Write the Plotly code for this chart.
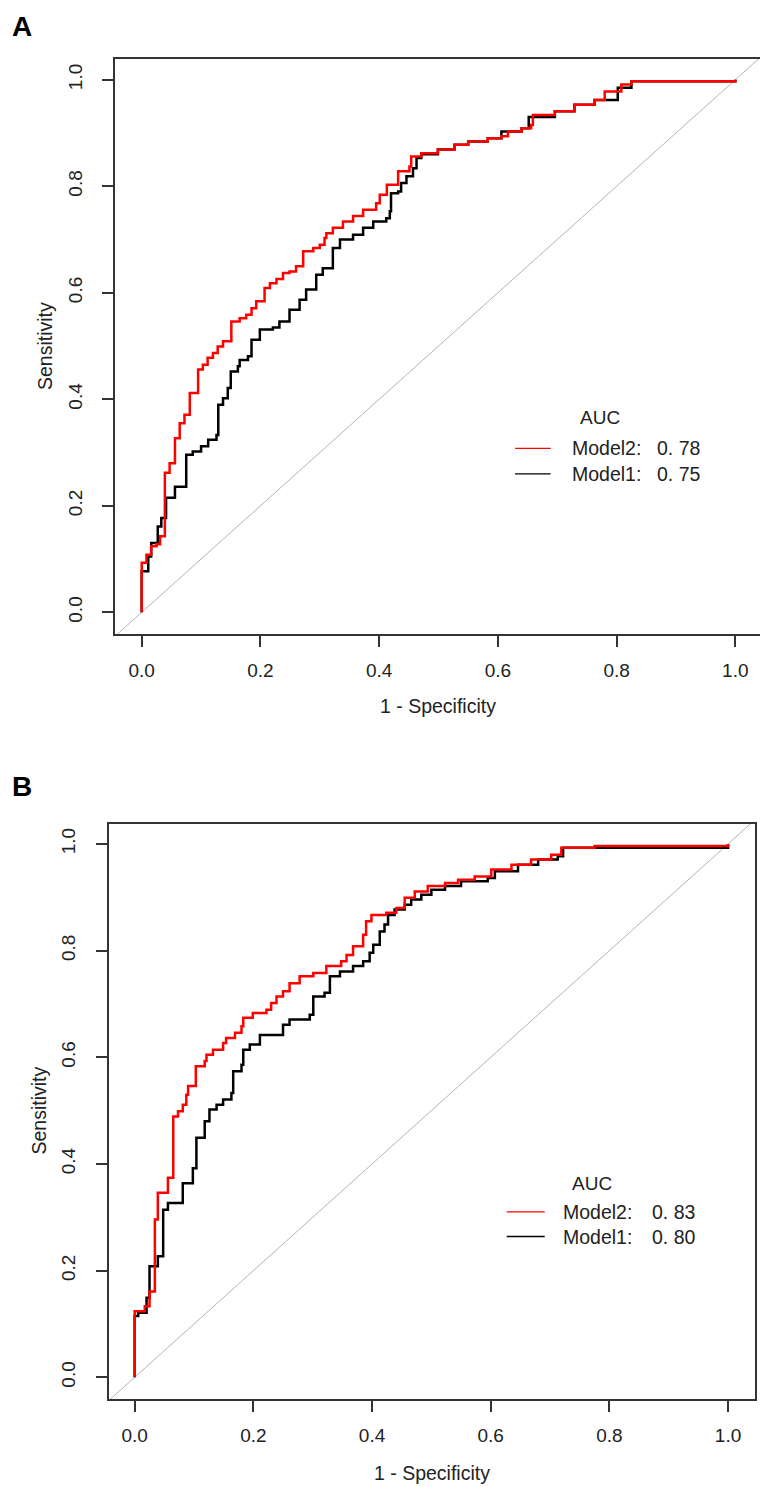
import plotly.graph_objects as go

# ---------------- Data ----------------
# Panel A
a_m2_fpr = [0, 0, 0.008, 0.016, 0.025, 0.031, 0.039, 0.047, 0.056, 0.064, 0.072, 0.081, 0.095, 0.103,
            0.111, 0.120, 0.128, 0.137, 0.151, 0.165, 0.176, 0.185, 0.193, 0.207, 0.216, 0.227, 0.238,
            0.249, 0.260, 0.272, 0.289, 0.300, 0.308, 0.311, 0.322, 0.339, 0.356, 0.373, 0.395, 0.401,
            0.413, 0.432, 0.451, 0.454, 0.471, 0.499, 0.527, 0.550, 0.583, 0.606, 0.617, 0.640, 0.656,
            0.659, 0.696, 0.729, 0.763, 0.780, 0.808, 0.825, 1.0]
a_m2_tpr = [0, 0.093, 0.108, 0.124, 0.128, 0.143, 0.262, 0.280, 0.327, 0.355, 0.371, 0.412, 0.456, 0.465,
            0.478, 0.487, 0.499, 0.509, 0.546, 0.552, 0.559, 0.571, 0.584, 0.609, 0.618, 0.626, 0.637,
            0.640, 0.650, 0.678, 0.684, 0.690, 0.703, 0.712, 0.722, 0.734, 0.744, 0.756, 0.768, 0.784,
            0.803, 0.828, 0.837, 0.856, 0.862, 0.869, 0.878, 0.884, 0.890, 0.894, 0.903, 0.909, 0.915,
            0.934, 0.941, 0.953, 0.962, 0.978, 0.991, 0.997, 1.0]

a_m1_fpr = [0, 0, 0.005, 0.011, 0.016, 0.027, 0.033, 0.041, 0.056, 0.075, 0.086, 0.100, 0.112, 0.126,
            0.129, 0.137, 0.145, 0.150, 0.162, 0.165, 0.179, 0.185, 0.199, 0.221, 0.232, 0.249, 0.266,
            0.277, 0.294, 0.305, 0.322, 0.334, 0.356, 0.373, 0.390, 0.412, 0.418, 0.420, 0.432, 0.437,
            0.446, 0.457, 0.463, 0.471, 0.499, 0.527, 0.550, 0.583, 0.606, 0.640, 0.652, 0.696, 0.729,
            0.763, 0.802, 0.825, 1.0]
a_m1_tpr = [0, 0.077, 0.077, 0.105, 0.130, 0.161, 0.177, 0.215, 0.236, 0.296, 0.302, 0.312, 0.324, 0.333,
            0.390, 0.402, 0.421, 0.452, 0.462, 0.474, 0.481, 0.512, 0.531, 0.535, 0.546, 0.568, 0.587,
            0.606, 0.634, 0.646, 0.684, 0.700, 0.709, 0.722, 0.734, 0.740, 0.753, 0.787, 0.790, 0.806,
            0.819, 0.834, 0.853, 0.860, 0.869, 0.878, 0.884, 0.890, 0.903, 0.909, 0.930, 0.941, 0.953,
            0.962, 0.985, 0.997, 1.0]

# Panel B
b_m2_fpr = [0, 0, 0.017, 0.025, 0.034, 0.039, 0.056, 0.065, 0.073, 0.081, 0.087, 0.090, 0.103, 0.118,
            0.121, 0.132, 0.149, 0.154, 0.169, 0.180, 0.183, 0.199, 0.222, 0.230, 0.239, 0.250, 0.261,
            0.278, 0.301, 0.323, 0.348, 0.357, 0.368, 0.385, 0.390, 0.399, 0.424, 0.441, 0.455, 0.472,
            0.494, 0.523, 0.545, 0.573, 0.601, 0.635, 0.668, 0.702, 0.719, 0.775, 1.0]
b_m2_tpr = [0, 0.124, 0.133, 0.161, 0.296, 0.346, 0.374, 0.489, 0.499, 0.511, 0.530, 0.546, 0.583, 0.593,
            0.605, 0.614, 0.627, 0.636, 0.646, 0.658, 0.674, 0.683, 0.689, 0.702, 0.714, 0.724, 0.739,
            0.752, 0.758, 0.771, 0.780, 0.792, 0.808, 0.830, 0.855, 0.867, 0.871, 0.880, 0.899, 0.911,
            0.921, 0.927, 0.933, 0.939, 0.952, 0.961, 0.971, 0.980, 0.993, 0.996, 1.0]

b_m1_fpr = [0, 0, 0.006, 0.020, 0.025, 0.039, 0.048, 0.056, 0.081, 0.098, 0.104, 0.118, 0.126, 0.138,
            0.149, 0.163, 0.166, 0.180, 0.183, 0.194, 0.211, 0.250, 0.261, 0.295, 0.301, 0.320, 0.329,
            0.346, 0.368, 0.385, 0.396, 0.402, 0.413, 0.421, 0.427, 0.438, 0.455, 0.466, 0.483, 0.500,
            0.523, 0.550, 0.595, 0.607, 0.646, 0.680, 0.713, 0.722, 1.0]
b_m1_tpr = [0, 0.115, 0.121, 0.149, 0.208, 0.227, 0.314, 0.327, 0.364, 0.392, 0.449, 0.480, 0.502, 0.511,
            0.521, 0.533, 0.574, 0.586, 0.614, 0.624, 0.642, 0.661, 0.671, 0.680, 0.714, 0.721, 0.752,
            0.761, 0.771, 0.780, 0.796, 0.811, 0.836, 0.849, 0.867, 0.877, 0.886, 0.896, 0.905, 0.914,
            0.921, 0.930, 0.936, 0.949, 0.961, 0.971, 0.977, 0.993, 1.0]

model_names = ["Model2:", "Model1:"]
auc_a = ["0. 78", "0. 75"]
auc_b = ["0. 83", "0. 80"]
panel_labels = ["A", "B"]
tick_vals = [0, 0.2, 0.4, 0.6, 0.8, 1.0]
tick_text = ["0.0", "0.2", "0.4", "0.6", "0.8", "1.0"]
diag = [-0.1, 1.1]

W, H = 768, 1487
FONT = "Liberation Sans, Arial, sans-serif"
RED = "#ff0000"
BLACK = "#000000"
GRAY = "#b4b4b4"
AXC = "#333333"
TXT = "#222222"

fig = go.Figure()

panels = [
    dict(xa="x", ya="y", m2=(a_m2_fpr, a_m2_tpr), m1=(a_m1_fpr, a_m1_tpr)),
    dict(xa="x2", ya="y2", m2=(b_m2_fpr, b_m2_tpr), m1=(b_m1_fpr, b_m1_tpr)),
]

for p in panels:
    fig.add_trace(go.Scatter(x=diag, y=diag, mode="lines", xaxis=p["xa"], yaxis=p["ya"],
                             line=dict(color=GRAY, width=1), showlegend=False, hoverinfo="skip"))
    fig.add_trace(go.Scatter(x=p["m1"][0], y=p["m1"][1], mode="lines", xaxis=p["xa"], yaxis=p["ya"],
                             line=dict(color=BLACK, width=2.5, shape="hv"), showlegend=False))
    fig.add_trace(go.Scatter(x=p["m2"][0], y=p["m2"][1], mode="lines", xaxis=p["xa"], yaxis=p["ya"],
                             line=dict(color=RED, width=2.5, shape="hv"), showlegend=False))

# Axes geometry (pixel boxes of the reference)
boxes = [
    dict(l=107, r=753, t=51, b=626, xr=[-0.045, 1.0433], yr=[-0.0407, 1.039]),
    dict(l=100.7, r=746.7, t=815.7, b=1391, xr=[-0.0438, 1.0449], yr=[-0.0407, 1.038]),
]

def axis_common():
    return dict(showgrid=False, zeroline=False, showline=True, mirror=True, linecolor=AXC,
                linewidth=1.6, ticks="outside", ticklen=11, tickwidth=1.6, tickcolor=AXC,
                tickvals=tick_vals, ticktext=tick_text,
                tickfont=dict(family=FONT, size=19, color=TXT))

for i, bx in enumerate(boxes):
    sfx = "" if i == 0 else str(i + 1)
    xa = axis_common()
    xa.update(domain=[bx["l"] / W, bx["r"] / W], range=bx["xr"], anchor="y" + sfx,
              ticklabelstandoff=7)
    ya = axis_common()
    ya.update(domain=[1 - bx["b"] / H, 1 - bx["t"] / H], range=bx["yr"], anchor="x" + sfx,
              tickangle=-90, ticklabelstandoff=13)
    fig.update_layout(**{"xaxis" + sfx: xa, "yaxis" + sfx: ya})

annotations = []
shapes = []
legend_geo = [
    dict(xa="x", ya="y", auc=auc_a, auc_xy=(0.772, 0.365), ly=[0.308, 0.260], lx=[0.629, 0.689],
         tx=0.722, vx=0.865),
    dict(xa="x2", ya="y2", auc=auc_b, auc_xy=(0.771, 0.364), ly=[0.310, 0.264], lx=[0.627, 0.691],
         tx=0.719, vx=0.868),
]
for g in legend_geo:
    annotations.append(dict(x=g["auc_xy"][0], y=g["auc_xy"][1], xref=g["xa"], yref=g["ya"], text="AUC",
                            showarrow=False, xanchor="center", yanchor="middle",
                            font=dict(family=FONT, size=19, color=TXT)))
    for j, col in enumerate([RED, BLACK]):
        shapes.append(dict(type="line", xref=g["xa"], yref=g["ya"], x0=g["lx"][0], x1=g["lx"][1],
                           y0=g["ly"][j], y1=g["ly"][j], line=dict(color=col, width=1.3)))
        annotations.append(dict(x=g["tx"], y=g["ly"][j], xref=g["xa"], yref=g["ya"], text=model_names[j],
                                showarrow=False, xanchor="left", yanchor="middle",
                                font=dict(family=FONT, size=19.5, color=TXT)))
        annotations.append(dict(x=g["vx"], y=g["ly"][j], xref=g["xa"], yref=g["ya"], text=g["auc"][j],
                                showarrow=False, xanchor="left", yanchor="middle",
                                font=dict(family=FONT, size=19.5, color=TXT)))

# Axis titles and panel letters
title_font = dict(family=FONT, size=19.5, color=TXT)
annotations += [
    dict(x=430 / W, y=1 - 698 / H, xref="paper", yref="paper", text="1 - Specificity", showarrow=False,
         xanchor="center", yanchor="middle", font=title_font),
    dict(x=423.7 / W, y=1 - 1465 / H, xref="paper", yref="paper", text="1 - Specificity", showarrow=False,
         xanchor="center", yanchor="middle", font=title_font),
    dict(x=37.5 / W, y=1 - 338.5 / H, xref="paper", yref="paper", text="Sensitivity", showarrow=False,
         textangle=-90, xanchor="center", yanchor="middle", font=title_font),
    dict(x=30.5 / W, y=1 - 1103 / H, xref="paper", yref="paper", text="Sensitivity", showarrow=False,
         textangle=-90, xanchor="center", yanchor="middle", font=title_font),
    dict(x=13.5 / W, y=1 - 18.5 / H, xref="paper", yref="paper", text="<b>" + panel_labels[0] + "</b>",
         showarrow=False, xanchor="center", yanchor="middle",
         font=dict(family=FONT, size=28, color="#000000")),
    dict(x=13.5 / W, y=1 - 778 / H, xref="paper", yref="paper", text="<b>" + panel_labels[1] + "</b>",
         showarrow=False, xanchor="center", yanchor="middle",
         font=dict(family=FONT, size=28, color="#000000")),
]

fig.update_layout(width=W, height=H, margin=dict(l=0, r=0, t=0, b=0),
                  paper_bgcolor="white", plot_bgcolor="white",
                  annotations=annotations, shapes=shapes, showlegend=False)

fig.write_html("out.html")
